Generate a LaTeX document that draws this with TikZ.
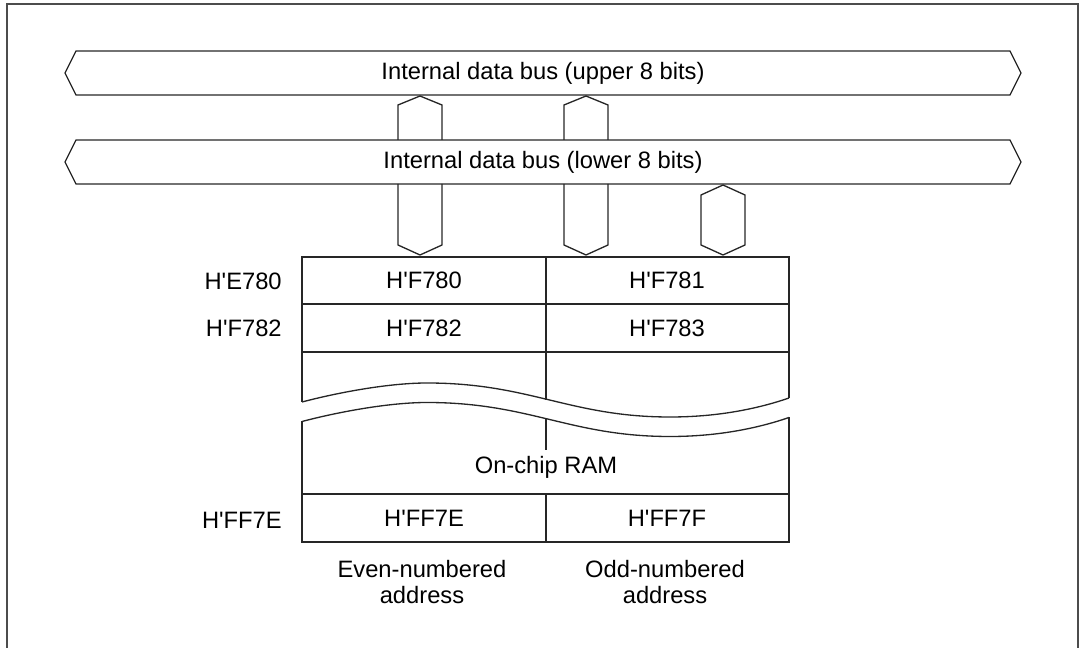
\documentclass[tikz,border=0pt]{standalone}
\usepackage{fontspec}
\setmainfont{Liberation Sans}[Ligatures=TeXOff]

\begin{document}
\begin{tikzpicture}[
  x=.02cm,y=-.02cm,
  every node/.style={font=\fontsize{13.5}{14.8}\selectfont,inner sep=0pt},
  line/.style={black!85,line width=.75pt,line join=miter},
  addr/.style={anchor=east}
]
\useasboundingbox (0,0) rectangle (1083,648);
% frame
\draw[black!70,line width=1pt] (7,648) -- (7,4) -- (1078,4) -- (1078,648);
% the two buses
\foreach \yc/\half in {73/upper,162/lower} {
  \draw[line] (65,\yc) -- (76,\yc-22) -- (1010,\yc-22) -- (1021,\yc)
    -- (1010,\yc+22) -- (76,\yc+22) -- cycle;
  \node (bus-\half) at (543,\yc) {Internal data bus (\half\ 8 bits)};
}
% bus taps
\foreach \xc in {420,586} {
  \draw[line] (\xc-22,140) -- (\xc-22,105) -- (\xc,96) -- (\xc+22,105) -- (\xc+22,140);
  \draw[line] (\xc-22,184) -- (\xc-22,245) -- (\xc,255) -- (\xc+22,245) -- (\xc+22,184);
}
\draw[line] (701,195) -- (723,185) -- (745,195) -- (745,245) -- (723,255) -- (701,245) -- cycle;
% RAM, upper part
\draw[line] (302,402) -- (302,257) -- (789,257) -- (789,398);
\draw[line] (302,304) -- (789,304) (302,352) -- (789,352);
\draw[line] (546,257) -- (546,400);
% break
\foreach \dy in {0,19.5} {
  \draw[line,shift={(0,\dy)}] (302,402) .. controls (340,392) and (390,383) .. (427,383)
    .. controls (530,383) and (570,417) .. (670,417)
    .. controls (720,417) and (760,408) .. (789,398);
}
% RAM, lower part
\draw[line] (302,421.5) -- (302,542) -- (789,542) -- (789,417.5);
\draw[line] (302,494) -- (789,494);
\draw[line] (546,419.5) -- (546,450) (546,494) -- (546,542);
% cells
\node (f780) at (424,280) {H'F780};
\node (f781) at (667,280) {H'F781};
\node (f782) at (424,328) {H'F782};
\node (f783) at (667,328) {H'F783};
\node (ram) at (546,467) {On-chip RAM};
\node (ff7e) at (424,518) {H'FF7E};
\node (ff7f) at (667,518) {H'FF7F};
% addresses
\node[addr] (a-e780) at (282,281) {H'E780};
\node[addr] (a-f782) at (282,328) {H'F782};
\node[addr] (a-ff7e) at (282,520) {H'FF7E};
\node[align=center] (even) at (422,582) {Even-numbered\\address};
\node[align=center] (odd) at (665,582) {Odd-numbered\\address};
\end{tikzpicture}
\end{document}
